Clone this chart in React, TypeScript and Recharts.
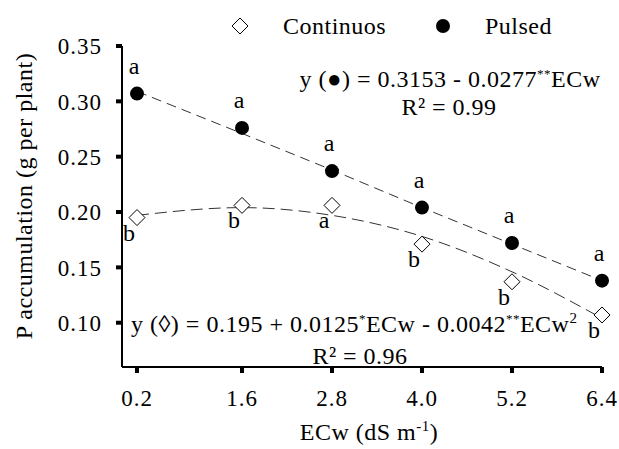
import React from 'react'
import { LineChart, Line, XAxis, YAxis, LabelList } from 'recharts'

const ecw = [0.2, 1.6, 2.8, 4.0, 5.2, 6.4]
const pulsed = [0.307, 0.276, 0.237, 0.204, 0.172, 0.138]
const continuos = [0.195, 0.206, 0.206, 0.171, 0.137, 0.107]
const pulsedFit = [0.309, 0.271, 0.238, 0.204, 0.171, 0.138]
const continuosFit = [0.197, 0.204, 0.197, 0.178, 0.146, 0.104]
const pulsedLetters = ['a', 'a', 'a', 'a', 'a', 'a']
const continuosLetters = ['b', 'b', 'a', 'b', 'b', 'b']
const yTicks = [0.1, 0.15, 0.2, 0.25, 0.3, 0.35]

const font = '"Liberation Serif", "Times New Roman", serif'

const pulsedData = ecw.map((x, i) => ({ x, y: pulsed[i], letter: pulsedLetters[i] }))
const continuosData = ecw.map((x, i) => ({ x, y: continuos[i], letter: continuosLetters[i] }))
const pulsedFitData = ecw.map((x, i) => ({ x, y: pulsedFit[i] }))
const continuosFitData = ecw.map((x, i) => ({ x, y: continuosFit[i] }))

const Diamond = (props: any) => {
  const { cx, cy, index } = props
  if (cx == null || cy == null) return null
  const r = 8
  return (
    <polygon
      key={`d-${index}`}
      points={`${cx},${cy - r} ${cx + r},${cy} ${cx},${cy + r} ${cx - r},${cy}`}
      fill="#fff"
      stroke="#000"
      strokeWidth={1}
    />
  )
}

const Dot = (props: any) => {
  const { cx, cy, index } = props
  if (cx == null || cy == null) return null
  return <circle key={`c-${index}`} cx={cx} cy={cy} r={7} fill="#000" />
}

const letterAbove = (props: any) => {
  const { x, y, value } = props
  return (
    <text x={x - 3} y={y - 20} textAnchor="middle" fontFamily={font} fontSize={24} fill="#000">
      {value}
    </text>
  )
}

const letterBelow = (props: any) => {
  const { x, y, value } = props
  return (
    <text x={x - 8} y={y + 23} textAnchor="middle" fontFamily={font} fontSize={24} fill="#000">
      {value}
    </text>
  )
}

const textStyle = { fontFamily: font, fontSize: 24, fill: '#000', letterSpacing: 0.5 }
const tickStyle = { fontFamily: font, fontSize: 23, fill: '#000', letterSpacing: 1 }

export default function App() {
  return (
    <div style={{ position: 'absolute', left: 0, top: 0, width: 619, height: 449, background: '#fff' }}>
      <LineChart width={619} height={449} margin={{ top: 46, right: 17, left: 0, bottom: 0 }}>
        <XAxis
          type="number"
          dataKey="x"
          domain={[0, 6.4]}
          ticks={ecw}
          tickFormatter={(v: number) => v.toFixed(1)}
          height={82}
          axisLine={{ stroke: '#000', strokeWidth: 2 }}
          tickLine={{ stroke: '#000', strokeWidth: 4 }}
          tickSize={6}
          tickMargin={17}
          tick={tickStyle}
        />
        <YAxis
          type="number"
          domain={[0.06, 0.35]}
          ticks={yTicks}
          tickFormatter={(v: number) => v.toFixed(2)}
          width={122}
          axisLine={{ stroke: '#000', strokeWidth: 2 }}
          tickLine={{ stroke: '#000', strokeWidth: 4 }}
          tickSize={6}
          tickMargin={14}
          tick={tickStyle}
        />
        <Line
          data={pulsedFitData}
          dataKey="y"
          type="linear"
          stroke="#333"
          strokeWidth={1}
          strokeDasharray="10 6"
          dot={false}
          isAnimationActive={false}
        />
        <Line
          data={continuosFitData}
          dataKey="y"
          type="monotone"
          stroke="#333"
          strokeWidth={1}
          strokeDasharray="12 6"
          dot={false}
          isAnimationActive={false}
        />
        <Line
          data={continuosData}
          dataKey="y"
          stroke="none"
          dot={Diamond}
          activeDot={false}
          isAnimationActive={false}
        >
          <LabelList dataKey="letter" content={letterBelow} />
        </Line>
        <Line
          data={pulsedData}
          dataKey="y"
          stroke="none"
          dot={Dot}
          activeDot={false}
          isAnimationActive={false}
        >
          <LabelList dataKey="letter" content={letterAbove} />
        </Line>
      </LineChart>
      <svg
        width={619}
        height={449}
        style={{ position: 'absolute', left: 0, top: 0, pointerEvents: 'none' }}
      >
        {/* legend */}
        <polygon points="240,18 248,26 240,34 232,26" fill="#fff" stroke="#000" strokeWidth={1} />
        <text x={283} y={34} {...textStyle}>Continuos</text>
        <circle cx={443} cy={26} r={7} fill="#000" />
        <text x={485} y={34} {...textStyle}>Pulsed</text>

        {/* pulsed equation */}
        <text x={450} y={87} textAnchor="middle" {...textStyle}>
          y (●) = 0.3153 - 0.0277<tspan dy={-9} fontSize={13}>**</tspan>
          <tspan dy={9}>ECw</tspan>
        </text>
        <text x={449} y={115} textAnchor="middle" {...textStyle}>R² = 0.99</text>

        {/* continuos equation */}
        <text x={131} y={332} {...textStyle}>
          y (◊) = 0.195 + 0.0125<tspan dy={-9} fontSize={13}>*</tspan>
          <tspan dy={9}>ECw - 0.0042</tspan>
          <tspan dy={-9} fontSize={13}>**</tspan>
          <tspan dy={9}>ECw</tspan>
          <tspan dy={-9} fontSize={15}>2</tspan>
        </text>
        <text x={360} y={364} textAnchor="middle" {...textStyle}>R² = 0.96</text>

        {/* axis titles */}
        <text x={369} y={440} textAnchor="middle" {...textStyle}>
          ECw (dS m<tspan dy={-9} fontSize={15}>-1</tspan>
          <tspan dy={9}>)</tspan>
        </text>
        <text
          x={24}
          y={196}
          textAnchor="middle"
          transform="rotate(-90 24 196)"
          dominantBaseline="central"
          {...textStyle}
        >
          P accumulation (g per plant)
        </text>
      </svg>
    </div>
  )
}
